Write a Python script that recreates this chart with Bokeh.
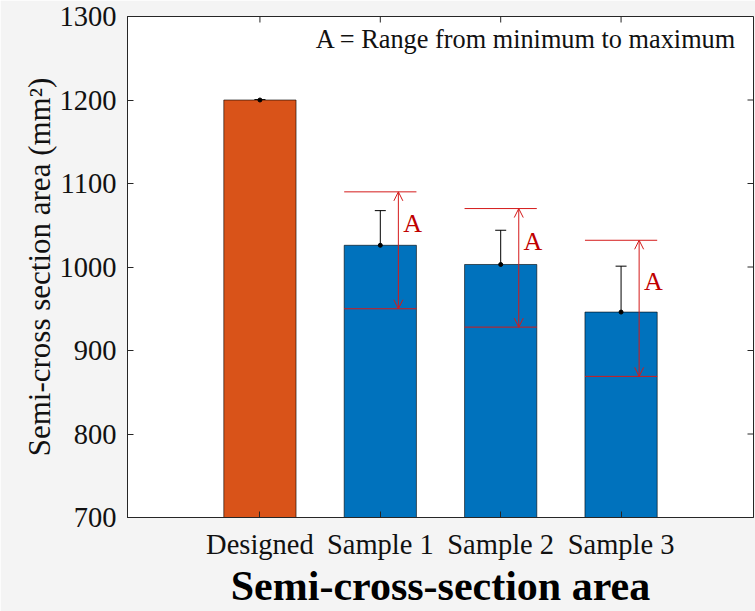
import numpy as np
from bokeh.plotting import figure
from bokeh.models import (Range1d, FixedTicker, Label, Arrow, OpenHead,
                          Whisker, TeeHead, ColumnDataSource)
from bokeh.core.properties import value
from bokeh.embed import file_html
from bokeh.resources import INLINE

# ---- data ----
categories = ["Designed", "Sample 1", "Sample 2", "Sample 3"]
mean_area = [1200, 1026, 1003, 946]
std_area = [0.5, 41.5, 41, 55]
bar_colors = ["#D95319", "#0072BD", "#0072BD", "#0072BD"]
range_labels = ["Sample 1", "Sample 2", "Sample 3"]
min_area = [950, 928, 869]
max_area = [1090, 1070, 1032]
y_ticks = [700, 800, 900, 1000, 1100, 1200, 1300]

FONT = "Liberation Serif"
AXC = "#262626"
RED = "#D41A1A"
X0, X1, Y0, Y1 = -0.1, 5.1, 700, 1300
FW, FH = 626, 501

xs = list(range(1, len(categories) + 1))
pos = {c: i + 1 for i, c in enumerate(categories)}
rx = [pos[c] for c in range_labels]

p = figure(frame_width=FW, frame_height=FH, output_backend="svg", toolbar_location=None,
           x_range=Range1d(X0, X1), y_range=Range1d(Y0, Y1),
           min_border_left=127, min_border_right=2, min_border_top=16, min_border_bottom=94,
           background_fill_color="white", border_fill_color="#f4f4f4")
p.grid.visible = False
p.outline_line_color = AXC
p.outline_line_width = 1

bars = ColumnDataSource(dict(x=xs, top=mean_area, color=bar_colors,
                             upper=[m + s for m, s in zip(mean_area, std_area)],
                             lower=[m - s for m, s in zip(mean_area, std_area)]))
p.vbar(x="x", top="top", bottom=0, width=0.6, fill_color="color", line_color="black",
       line_width=0.6, source=bars)

# error bars
p.add_layout(Whisker(base="x", upper="upper", lower="lower", source=bars,
                     line_color="black", line_width=1,
                     upper_head=TeeHead(size=11, line_color="black", line_width=1),
                     lower_head=TeeHead(size=11, line_color="black", line_width=1)))
p.scatter(x="x", y="top", size=4, color="black", source=bars)

# range lines and arrows
rng = ColumnDataSource(dict(x0=[x - 0.3 for x in rx], x1=[x + 0.3 for x in rx],
                            xa=[x + 0.15 for x in rx], xt=[x + 0.19 for x in rx],
                            ymin=min_area, ymax=max_area,
                            ytxt=[(a + b) / 2 + 32 for a, b in zip(min_area, max_area)],
                            txt=["A"] * len(rx)))
p.segment(x0="x0", x1="x1", y0="ymax", y1="ymax", line_color=RED, line_width=1, source=rng)
p.segment(x0="x0", x1="x1", y0="ymin", y1="ymin", line_color=RED, line_width=1, source=rng)
p.add_layout(Arrow(x_start="xa", y_start="ymin", x_end="xa", y_end="ymax", source=rng,
                   line_color=RED, line_width=1,
                   start=OpenHead(size=9, line_color=RED, line_width=1),
                   end=OpenHead(size=9, line_color=RED, line_width=1)))
p.text(x="xt", y="ytxt", text="txt", source=rng, text_font=value(FONT), text_font_size="26px",
       text_color="#C00000", text_align="left", text_baseline="alphabetic")

# inward ticks on top and right edges (box style)
tick_px = 6
dy = tick_px * (Y1 - Y0) / FH
dx = tick_px * (X1 - X0) / FW
p.segment(x0=xs, x1=xs, y0=[Y1 - dy] * len(xs), y1=[Y1] * len(xs), line_color=AXC, line_width=1)
p.segment(x0=[X1 - dx] * len(y_ticks), x1=[X1] * len(y_ticks), y0=y_ticks, y1=y_ticks,
          line_color=AXC, line_width=1)

# axes styling
def style_axis(ax):
    ax.axis_line_color = AXC
    ax.axis_line_width = 1
    ax.major_tick_line_color = AXC
    ax.major_tick_in = 6
    ax.major_tick_out = 0
    ax.minor_tick_line_color = None
    ax.major_label_text_font = FONT
    ax.major_label_text_color = "#111111"
    ax.major_label_text_font_size = "28.5px"
    ax.major_label_standoff = 11

xa = p.xaxis[0]
xa.ticker = FixedTicker(ticks=xs)
xa.major_label_overrides = {x: c for x, c in zip(xs, categories)}
style_axis(xa)
xa.axis_label = "Semi-cross-section area"
xa.axis_label_text_font = FONT
xa.axis_label_text_font_size = "42px"
xa.axis_label_text_font_style = "bold"
xa.axis_label_text_color = "black"
xa.axis_label_standoff = 0

ya = p.yaxis[0]
ya.ticker = FixedTicker(ticks=y_ticks)
style_axis(ya)
ya.axis_label = "Semi-cross section area (mm²)"
ya.axis_label_text_font = FONT
ya.axis_label_text_font_size = "31px"
ya.axis_label_text_font_style = "normal"
ya.axis_label_text_color = "#111111"
ya.axis_label_standoff = 0

p.add_layout(Label(x=4.96, y=1272, text="A = Range from minimum to maximum",
                   text_font=FONT, text_font_size="26.3px", text_color="#111111",
                   text_align="right", text_baseline="alphabetic"))

open("out.html", "w").write(file_html(p, INLINE))
